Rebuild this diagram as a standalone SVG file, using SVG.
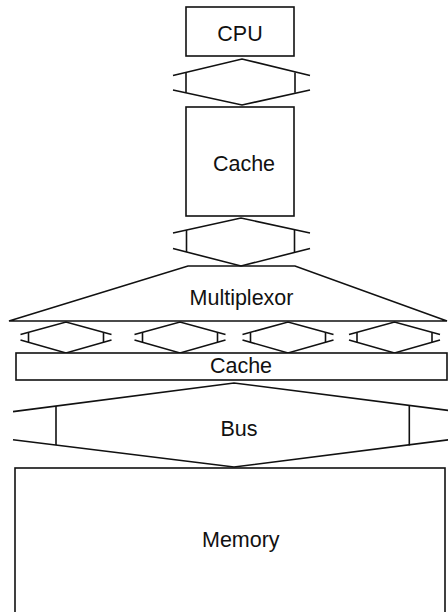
<svg xmlns="http://www.w3.org/2000/svg" width="448" height="612" viewBox="0 0 448 612">
  <style>
    .s { fill: none; stroke: #111; stroke-width: 1.6; stroke-linejoin: miter; }
    .box { fill: #fff; stroke: #111; stroke-width: 1.6; }
    .t { font-family: "Liberation Sans", Arial, Helvetica, sans-serif; font-size: 21.5px; fill: #111; text-anchor: middle; }
  </style>
  <defs>
    <g id="link-small" class="s">
      <polyline points="-45.5,12.5 0,0 45.5,12.5"/>
      <polyline points="-45.5,18 0,31 45.5,18"/>
      <line x1="-37.5" y1="10.3" x2="-37.5" y2="20.3"/>
      <line x1="37.5" y1="10.3" x2="37.5" y2="20.3"/>
    </g>
  </defs>
  <rect x="0" y="0" width="448" height="612" fill="#fff"/>

  <g id="connectors">
    <g id="link-cpu-cache" class="s">
      <polyline points="173,75.5 242,59 310,75.5"/>
      <polyline points="173,90 242,105 310,90"/>
      <line x1="186" y1="72.4" x2="186" y2="92.8"/>
      <line x1="295" y1="72.4" x2="295" y2="92.8"/>
    </g>
    <g id="link-cache-mux" class="s">
      <polyline points="173,233 241,218 310,233"/>
      <polyline points="173,248.5 241,266 310,248.5"/>
      <line x1="186.5" y1="230" x2="186.5" y2="252"/>
      <line x1="294.5" y1="230" x2="294.5" y2="252"/>
    </g>
    <use href="#link-small" x="66" y="322"/>
    <use href="#link-small" x="180" y="322"/>
    <use href="#link-small" x="288" y="322"/>
    <use href="#link-small" x="394.5" y="322"/>
  </g>

  <g id="cpu">
    <rect class="box" x="186" y="7" width="108" height="49"/>
    <text class="t" x="240" y="40.5">CPU</text>
  </g>

  <g id="cache-l1">
    <rect class="box" x="186" y="107" width="108" height="109"/>
    <text class="t" x="244" y="171">Cache</text>
  </g>

  <g id="multiplexor">
    <polygon class="s" points="188,266 295,266 447,321 9,321"/>
    <text class="t" x="241.5" y="305">Multiplexor</text>
  </g>

  <g id="cache-l2">
    <rect class="box" x="16" y="353" width="431" height="27"/>
    <text class="t" x="241" y="373">Cache</text>
  </g>

  <g id="bus">
    <polyline class="s" points="13,411.6 234,383 449,410.5"/>
    <polyline class="s" points="13,439.7 234,467 449,439.8"/>
    <line class="s" x1="56" y1="406" x2="56" y2="445"/>
    <line class="s" x1="409.3" y1="405" x2="409.3" y2="445.5"/>
    <text class="t" x="239" y="436">Bus</text>
  </g>

  <g id="memory">
    <rect class="box" x="15" y="468" width="430" height="160"/>
    <text class="t" x="240.8" y="546.5">Memory</text>
  </g>
</svg>
